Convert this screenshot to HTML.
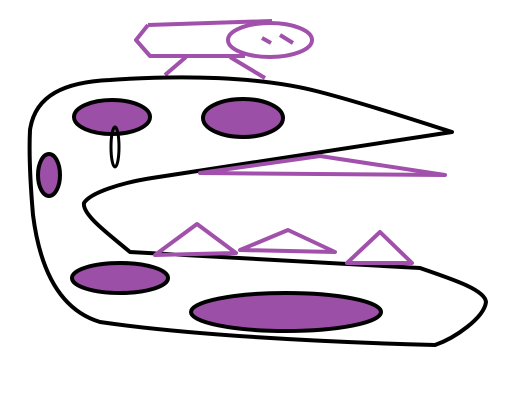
<!DOCTYPE html>
<html><head><meta charset="utf-8"><style>
html,body{margin:0;padding:0;background:#fff;}
svg{display:block;}
</style></head><body>
<svg width="515" height="410" viewBox="0 0 515 410">
  <g fill="none" stroke="#a150ab" stroke-width="4" stroke-linejoin="round">
    <path d="M148,25 L272,21 M148,25 L136,40 L150,56 L245,56"/>
    <ellipse cx="270" cy="40" rx="42" ry="17"/>
    <line x1="262" y1="38" x2="271" y2="43"/>
    <line x1="280" y1="35" x2="293" y2="43"/>
    <line x1="165" y1="75" x2="186" y2="57"/>
    <line x1="265" y1="78" x2="230" y2="57"/>
  </g>
  <path fill="none" stroke="#000" stroke-width="4" stroke-linejoin="round"
    d="M30,130 C35,95 65,82 110,80 C180,75 260,76 320,92 C370,105 420,122 452,132 L152,178 C120,183 90,193 84,203 C82,215 110,235 130,252 L420,268 C455,280 485,290 486,302 C484,318 455,338 435,345 C320,342 190,335 100,322 C60,310 40,270 33,215 C30,180 29,150 30,130 Z"/>
  <g fill="#9c4fa6" stroke="#000" stroke-width="4">
    <ellipse cx="112" cy="117" rx="38" ry="17"/>
    <ellipse cx="243" cy="118" rx="40" ry="19"/>
    <ellipse cx="49" cy="175" rx="11" ry="21"/>
    <ellipse cx="120" cy="278" rx="48" ry="15"/>
    <ellipse cx="286" cy="312" rx="95" ry="19"/>
  </g>
  <ellipse cx="115" cy="147" rx="4" ry="20" fill="none" stroke="#000" stroke-width="3"/>
  <g fill="none" stroke="#a150ab" stroke-width="4" stroke-linejoin="round">
    <polygon points="200,173 320,156 445,175"/>
    <polygon points="155,255 197,224 236,253"/>
    <polygon points="240,250 288,230 335,252"/>
    <polygon points="347,263 380,232 412,263"/>
  </g>
</svg>
</body></html>
